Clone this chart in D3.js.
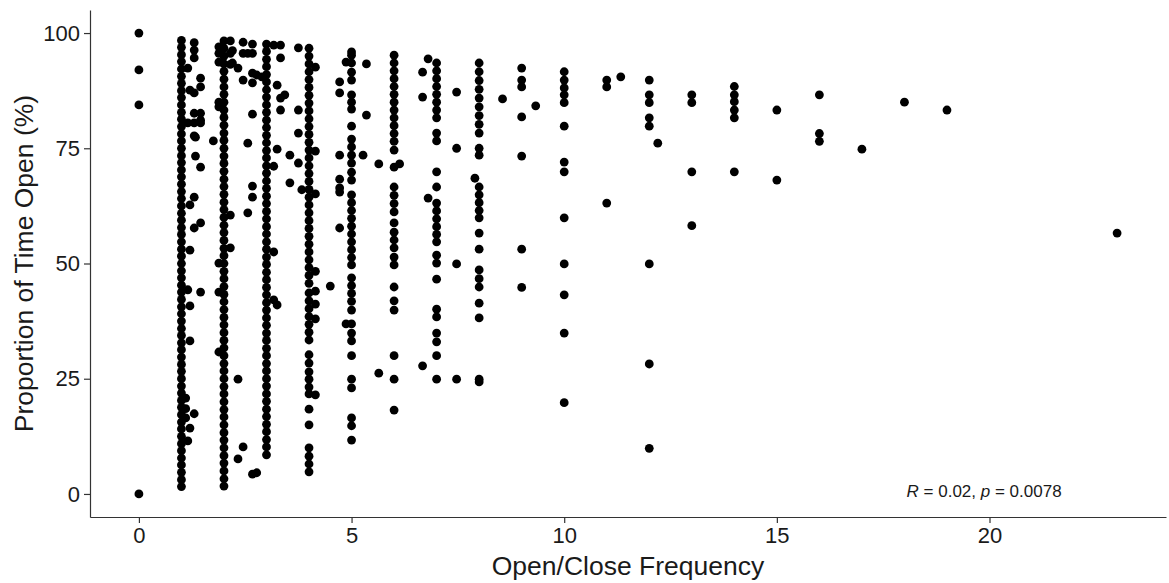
<!DOCTYPE html>
<html>
<head>
<meta charset="utf-8">
<script src="https://cdn.jsdelivr.net/npm/d3@7"></script>
<style>
  body { margin: 0; background: #fff; }
  svg { display: block; font-family: "Liberation Sans", Arial, sans-serif; }
</style>
</head>
<body>
<div id="chart"></div>
<script>
// open/close frequency values (x) and the matching proportion of time open (%) readings
const freq = [
  0, 1, 1.1, 1.15, 1.2, 1.3, 1.33, 1.45, 1.75, 1.88,
  2, 2.15, 2.2, 2.33, 2.45, 2.56, 2.67, 2.77, 2.89,
  3, 3.17, 3.25, 3.33, 3.43, 3.55, 3.75, 3.83,
  4, 4.15, 4.5, 4.72, 4.87,
  5, 5.27, 5.35, 5.64,
  6, 6.13, 6.67, 6.8,
  7, 7.47, 7.9,
  8, 8.55, 9, 9.33,
  10, 11, 11.33, 12, 12.2, 13, 14, 15, 16, 17, 18, 19, 23
];

const pctOpen = [
  [100, 92, 84.4, 0],
  [98.4, 96.9, 95.3, 93.8, 92.2, 90.6, 89.1, 87.5, 86.0, 84.4, 82.8, 81.3, 79.7, 78.1, 76.6, 75.0,
   73.4, 71.9, 70.3, 68.8, 67.2, 65.6, 64.1, 62.5, 60.9, 59.4, 57.8, 56.3, 54.7, 53.1, 51.6, 50.0,
   48.4, 46.9, 45.3, 43.8, 42.2, 40.6, 39.1, 37.5, 35.9, 34.4, 32.8, 31.3, 29.7, 28.1, 26.6, 25.0,
   23.4, 21.9, 20.3, 18.8, 17.2, 15.6, 14.1, 12.5, 10.9, 9.4, 7.8, 6.3, 4.7, 3.1, 1.6],
  [20.8, 18.5, 16.5],
  [92.4, 80.5, 44.3, 11.5],
  [87.6, 62.7, 52.9, 40.8, 33.2, 14.3],
  [97.9, 96.3, 94.6, 87.0, 82.6, 80.5, 77.7, 64.4, 57.7, 17.4],
  [77.4, 73.3],
  [90.2, 88.3, 82.6, 81.1, 80.5, 70.9, 58.8, 43.8],
  [76.6],
  [97.0, 95.6, 93.7, 85.0, 84.0, 50.1, 43.8, 30.8],
  [98.3, 96.7, 95.0, 93.3, 91.7, 90.0, 88.3, 86.7, 85.0, 83.3, 81.7, 80.0, 78.3, 76.7, 75.0,
   73.3, 71.7, 70.0, 68.3, 66.7, 65.0, 63.3, 61.7, 60.0, 58.3, 56.7, 55.0, 53.3, 51.7, 50.0,
   48.3, 46.7, 45.0, 43.3, 41.7, 40.0, 38.3, 36.7, 35.0, 33.3, 31.7, 30.0, 28.3, 26.7, 25.0,
   23.3, 21.7, 20.0, 18.3, 16.7, 15.0, 13.3, 11.7, 10.0, 8.3, 6.7, 5.0, 3.3, 1.7],
  [98.3, 95.6, 93.2, 60.5, 53.4],
  [93.5, 96.2],
  [92.4, 24.9, 7.6],
  [98.0, 95.6, 89.8, 10.2],
  [95.6, 76.1, 61.0],
  [97.6, 95.6, 91.3, 89.2, 82.4, 66.8, 64.4, 4.3],
  [90.9, 4.6],
  [90.5],
  [97.6, 96.0, 94.3, 92.7, 91.0, 89.4, 87.7, 86.1, 84.4, 82.8, 81.1, 79.5, 77.8, 76.2, 74.5,
   72.9, 71.2, 69.6, 67.9, 66.3, 64.6, 63.0, 61.3, 59.7, 58.0, 56.4, 54.7, 53.1, 51.4, 49.8,
   48.1, 46.5, 44.8, 43.2, 41.5, 39.9, 38.2, 36.6, 34.9, 33.3, 31.6, 30.0, 28.3, 26.7, 25.0,
   23.4, 21.7, 20.1, 18.4, 16.8, 15.1, 13.5, 11.8, 10.2, 8.5],
  [97.4, 71.1, 52.5, 42.1],
  [88.7, 74.8, 41.0],
  [97.4, 94.6, 85.9, 83.3],
  [86.6],
  [73.5, 67.5],
  [96.8, 83.3, 78.3, 71.8],
  [66.0],
  [96.7, 95.0, 93.3, 91.6, 89.9, 88.2, 86.5, 84.8, 83.1, 81.4, 79.7, 78.0, 76.3, 74.6, 72.9,
   71.2, 69.5, 67.8, 66.1, 64.4, 62.7, 61.0, 59.3, 57.6, 55.9, 54.2, 52.5, 50.8, 49.1, 47.4,
   45.7, 43.6, 41.9, 40.2, 38.5, 36.8, 35.1, 33.4, 30.2, 28.4, 26.5, 24.9, 23.2, 21.7, 18.4,
   15.0, 10.0, 8.2, 6.5, 4.8],
  [92.6, 74.4, 65.1, 48.3, 44.0, 41.2, 38.0, 21.5],
  [45.1],
  [89.4, 87.0, 73.5, 68.3, 66.4, 65.5, 57.7],
  [93.7, 36.9],
  [95.9, 95.2, 93.5, 91.5, 89.8, 86.6, 85.0, 83.5, 79.8, 77.0, 75.3, 73.5, 71.8, 69.8, 68.1,
   64.9, 63.2, 61.5, 59.8, 58.1, 56.4, 54.7, 53.0, 51.3, 49.7, 46.9, 45.2, 43.5, 41.8, 39.9,
   36.9, 34.9, 33.2, 30.0, 24.9, 23.0, 16.5, 14.8, 11.7],
  [73.5],
  [93.3, 82.2],
  [71.6, 26.2],
  [95.2, 93.5, 91.8, 90.1, 88.4, 86.7, 85.0, 83.3, 81.6, 79.9, 78.2, 76.5, 74.6, 70.9, 66.6,
   64.8, 63.0, 61.2, 58.8, 56.8, 55.1, 53.4, 51.4, 49.7, 44.9, 41.9, 39.9, 30.0, 24.9, 18.2],
  [71.6],
  [91.5, 86.1, 27.8],
  [94.4, 64.2],
  [93.5, 91.8, 90.1, 88.4, 86.7, 85.0, 83.3, 81.6, 78.3, 76.6, 69.9, 66.6, 63.1, 61.4, 59.7,
   58.0, 56.3, 54.7, 51.8, 50.1, 46.6, 40.1, 38.4, 34.9, 33.0, 30.0, 24.9],
  [87.2, 75.0, 49.9, 24.9],
  [68.5],
  [93.5, 91.6, 89.7, 87.8, 85.9, 84.0, 82.1, 80.2, 78.3, 75.0, 73.5, 66.6, 64.9, 63.2, 61.5,
   59.9, 56.6, 53.1, 48.6, 46.7, 44.9, 41.4, 38.2, 24.9, 24.3],
  [85.7],
  [92.4, 89.8, 88.3, 81.8, 73.3, 53.1, 44.8],
  [84.2],
  [91.6, 89.8, 88.1, 86.6, 84.9, 79.8, 72.0, 69.9, 59.9, 49.9, 43.2, 34.9, 19.8],
  [89.8, 88.3, 63.1],
  [90.5],
  [89.8, 86.6, 84.9, 81.6, 79.8, 49.9, 28.2, 9.9],
  [76.1],
  [86.6, 84.9, 69.9, 58.2],
  [88.4, 86.6, 85.1, 83.3, 81.6, 69.9],
  [83.3, 68.1],
  [86.6, 78.2, 76.5],
  [74.8],
  [85.0],
  [83.3],
  [56.6]
];

const xTicks = [0, 5, 10, 15, 20];
const yTicks = [0, 25, 50, 75, 100];

const points = [];
freq.forEach((f, i) => pctOpen[i].forEach((v) => points.push({ x: f, y: v })));

const width = 1169, height = 583;
const margin = { top: 10, right: 3, bottom: 66, left: 90 };

const svg = d3
  .select("#chart")
  .append("svg")
  .attr("width", width)
  .attr("height", height);

// ggplot style 5% expansion on both axes
const x = d3
  .scaleLinear()
  .domain([-1.15, 24.15])
  .range([margin.left, width - margin.right]);

const y = d3
  .scaleLinear()
  .domain([-5, 105])
  .range([height - margin.bottom, margin.top]);

svg
  .append("g")
  .selectAll("circle")
  .data(points)
  .enter()
  .append("circle")
  .attr("cx", (d) => x(d.x))
  .attr("cy", (d) => y(d.y))
  .attr("r", 4.4)
  .attr("fill", "#000");

// axes
const xAxis = svg
  .append("g")
  .attr("transform", `translate(0,${height - margin.bottom})`)
  .call(d3.axisBottom(x).tickValues(xTicks).tickSize(6).tickPadding(4).tickSizeOuter(0));

const yAxis = svg
  .append("g")
  .attr("transform", `translate(${margin.left},0)`)
  .call(d3.axisLeft(y).tickValues(yTicks).tickSize(6).tickPadding(4).tickSizeOuter(0));

[xAxis, yAxis].forEach((g) => {
  g.select(".domain").attr("stroke", "#333").attr("stroke-width", 1.2);
  g.selectAll(".tick line").attr("stroke", "#333").attr("stroke-width", 1.2);
  g.selectAll(".tick text")
    .attr("fill", "#1a1a1a")
    .style("font-size", "22px")
    .style("font-family", '"Liberation Sans", Arial, sans-serif');
});

// axis titles
svg
  .append("text")
  .attr("x", (margin.left + width - margin.right) / 2)
  .attr("y", 575)
  .attr("text-anchor", "middle")
  .style("font-size", "26.5px")
  .attr("fill", "#1a1a1a")
  .text("Open/Close Frequency");

svg
  .append("text")
  .attr("transform", `translate(33,${(margin.top + height - margin.bottom) / 2}) rotate(-90)`)
  .attr("text-anchor", "middle")
  .style("font-size", "26.5px")
  .attr("fill", "#1a1a1a")
  .text("Proportion of Time Open (%)");

// correlation label
const stat = svg
  .append("text")
  .attr("x", x(18.05))
  .attr("y", 497)
  .style("font-size", "17px")
  .attr("fill", "#1a1a1a");
stat.append("tspan").style("font-style", "italic").text("R");
stat.append("tspan").text(" = 0.02, ");
stat.append("tspan").style("font-style", "italic").text("p");
stat.append("tspan").text(" = 0.0078");
</script>
</body>
</html>
